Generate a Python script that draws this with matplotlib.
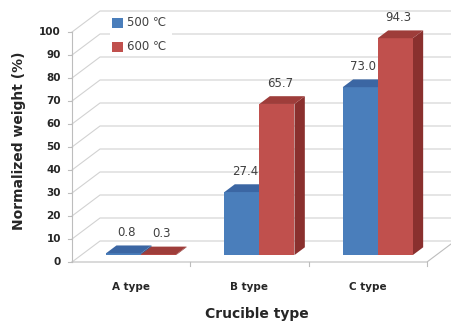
import matplotlib
matplotlib.use("Agg")
import matplotlib.pyplot as plt
from matplotlib.patches import Polygon, Rectangle

# ---- data ----
categories = ["A type", "B type", "C type"]
series_names = ["500 \u2103", "600 \u2103"]
values_500 = [0.8, 27.4, 73.0]
values_600 = [0.3, 65.7, 94.3]
y_ticks = [0, 10, 20, 30, 40, 50, 60, 70, 80, 90, 100]

series_values = [values_500, values_600]
front_colors = ["#4a7ebb", "#c0504d"]
top_colors = ["#3b66a3", "#9e3d3a"]
side_colors = ["#335a92", "#8a302e"]

# ---- layout (pixel geometry of an oblique 3-D column chart) ----
W, H, DPI = 451, 323, 100
X0_PX, PX_PER_CAT = 72.0, 118.33     # front-left corner of floor, width per category
Y0_PX, PX_PER_UNIT = 262.0, 2.3      # front floor line (from top), pixels per %
DEPTH_DX_PX, DEPTH_DY_PX = 28.0, 21.0  # full depth of the plot box

DX = DEPTH_DX_PX / PX_PER_CAT
DY = DEPTH_DY_PX / PX_PER_UNIT


def proj(x, v, d):
    """Oblique projection: category x, value v, depth d (0 front .. 1 back)."""
    return (x + d * DX, v + d * DY)


fig = plt.figure(figsize=(W / DPI, H / DPI), dpi=DPI)
ax = fig.add_axes([0, 0, 1, 1])
ax.set_xlim(-X0_PX / PX_PER_CAT, (W - X0_PX) / PX_PER_CAT)
ax.set_ylim((Y0_PX - H) / PX_PER_UNIT, Y0_PX / PX_PER_UNIT)
ax.axis("off")

px_x = 1.0 / PX_PER_CAT   # one pixel in x data units
px_y = 1.0 / PX_PER_UNIT  # one pixel in y data units

grid_color = "#d2d2d2"
axis_color = "#bdbdbd"
text_dark = "#262626"
ncat = len(categories)
x_far = ax.get_xlim()[1] + 1

# walls: gridlines on the left side wall and the back wall
for v in y_ticks:
    p0 = proj(0, v, 0)
    p1 = proj(0, v, 1)
    p2 = (x_far, p1[1])
    ax.plot([p0[0], p1[0], p2[0]], [p0[1], p1[1], p2[1]],
            color=grid_color, lw=0.8, zorder=1, solid_joinstyle="miter")

# front value axis with tick marks and labels
ax.plot([0, 0], [0, y_ticks[-1]], color=axis_color, lw=0.8, zorder=2)
for v in y_ticks:
    ax.plot([-4 * px_x, 0], [v, v], color=axis_color, lw=0.8, zorder=2)
    ax.text(-11 * px_x, v, str(v), ha="right", va="center",
            fontsize=7.5, fontweight="bold", color=text_dark)

# floor front and right edges
fl = [proj(0, 0, 0), proj(ncat, 0, 0), proj(ncat, 0, 1)]
ax.plot([p[0] for p in fl], [p[1] for p in fl], color=axis_color, lw=0.8, zorder=2)
for i in range(1, ncat + 1):
    ax.plot([i, i], [0, -4 * px_y], color=axis_color, lw=0.8, zorder=2)

# bars
BAR_W = 0.296
BAR_OFF = 0.21
D0, D1 = 0.33, 0.70
for i in range(ncat):
    for j, vals in enumerate(series_values):
        v = vals[i]
        xl = i + BAR_OFF + j * BAR_W
        xr = xl + BAR_W
        front = [proj(xl, 0, D0), proj(xr, 0, D0), proj(xr, v, D0), proj(xl, v, D0)]
        top = [proj(xl, v, D0), proj(xr, v, D0), proj(xr, v, D1), proj(xl, v, D1)]
        side = [proj(xr, 0, D0), proj(xr, 0, D1), proj(xr, v, D1), proj(xr, v, D0)]
        z = 3 + j
        ax.add_patch(Polygon(side, closed=True, facecolor=side_colors[j],
                             edgecolor="none", zorder=z))
        ax.add_patch(Polygon(front, closed=True, facecolor=front_colors[j],
                             edgecolor="none", zorder=z))
        ax.add_patch(Polygon(top, closed=True, facecolor=top_colors[j],
                             edgecolor="none", zorder=z))
        lx, _ = proj((xl + xr) / 2, v, D0)
        _, ly = proj(xl, v, D1)
        ax.annotate(f"{v:.1f}", (lx + 3 * px_x, ly), xytext=(0, 9.4),
                    textcoords="offset points", ha="center", va="center",
                    fontsize=8.5, color="#404040", zorder=10)

# category labels and axis titles
for i, name in enumerate(categories):
    ax.text(i + 0.5, -25 * px_y, name, ha="center", va="center",
            fontsize=7.5, fontweight="bold", color=text_dark)

ax.text(1.56, -52 * px_y, "Crucible type", ha="center", va="center",
        fontsize=10, fontweight="bold", color=text_dark)
ax.text(-53 * px_x, (Y0_PX - 141) * px_y, "Normalized weight (%)",
        rotation=90, ha="center", va="center",
        fontsize=10, fontweight="bold", color=text_dark)


# legend on a white patch over the back wall
def fig_px(xp, yp):
    return ((xp - X0_PX) / PX_PER_CAT, (Y0_PX - yp) / PX_PER_UNIT)


lx0, ly0 = fig_px(110, 54)
lx1, ly1 = fig_px(172, 12)
ax.add_patch(Rectangle((lx0, ly0), lx1 - lx0, ly1 - ly0, facecolor="white",
                       edgecolor="none", zorder=6))
for j, name in enumerate(series_names):
    yc = 23 + j * 24
    sx, sy = fig_px(112, yc + 5)
    ax.add_patch(Rectangle((sx, sy), 11 * px_x, 10 * px_y,
                           facecolor=front_colors[j], edgecolor="none", zorder=7))
    tx, ty = fig_px(127, yc)
    ax.text(tx, ty, name, ha="left", va="center", fontsize=8.5,
            color="#404040", zorder=7)

fig.savefig("out.png", dpi=DPI, facecolor="white")
